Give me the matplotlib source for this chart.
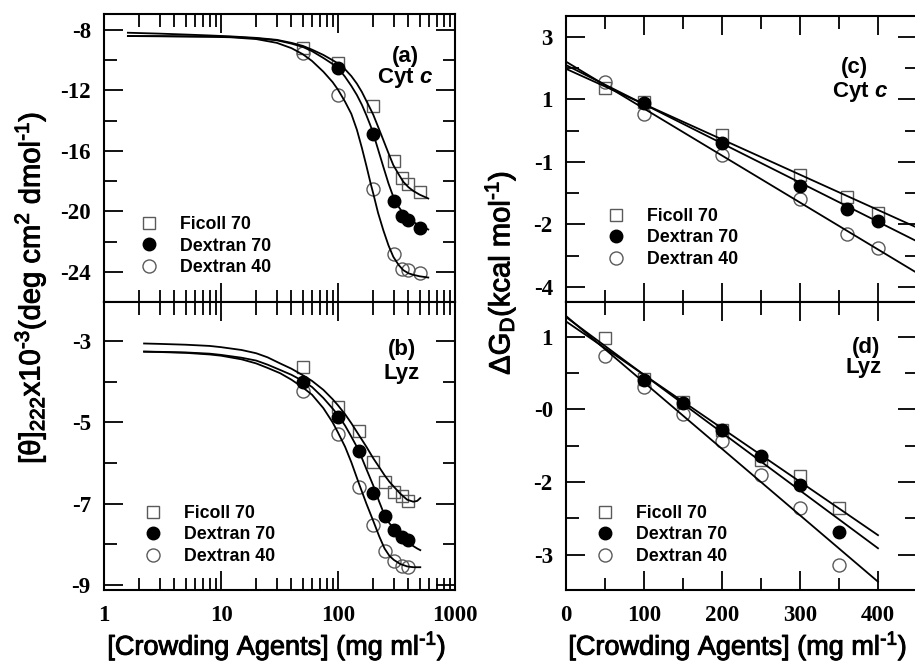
import matplotlib
matplotlib.use("Agg")
import matplotlib.pyplot as plt
import matplotlib.patheffects as pe
from matplotlib.ticker import LogLocator, NullFormatter, FixedLocator

plt.rcParams["font.family"] = ["Liberation Sans", "DejaVu Sans"]
plt.rcParams["mathtext.fontset"] = "custom"
plt.rcParams["mathtext.rm"] = "Liberation Sans"
plt.rcParams["mathtext.it"] = "Liberation Sans:italic"
plt.rcParams["mathtext.bf"] = "Liberation Sans:bold"
plt.rcParams["mathtext.bfit"] = "Liberation Sans:italic:bold"
plt.rcParams["axes.unicode_minus"] = False

# ---------------- (a) Cyt c, far-UV CD vs crowder ----------------
a_fic_x = [50, 100, 200, 300, 350, 400, 500]
a_fic_y = [-9.2, -10.2, -13.0, -16.7, -17.8, -18.2, -18.7]
a_d70_x = [100, 200, 300, 350, 400, 500]
a_d70_y = [-10.5, -14.9, -19.3, -20.3, -20.6, -21.1]
a_d40_x = [50, 100, 200, 300, 350, 400, 500]
a_d40_y = [-9.5, -12.3, -18.5, -22.8, -23.8, -23.9, -24.1]

a_fit_x = [1.6, 3, 5, 8, 12, 20, 30, 40, 50, 60, 75, 90, 100, 115, 130, 145, 160, 175,
           190, 200, 220, 244, 270, 297, 330, 361, 400, 440, 500, 591]
a_fit_fic = [-8.18, -8.24, -8.30, -8.36, -8.42, -8.52, -8.65, -8.85, -9.05, -9.30, -9.65,
             -10.00, -10.21, -10.60, -11.05, -11.55, -12.10, -12.70, -13.25, -13.60, -14.40,
             -15.28, -16.15, -16.94, -17.55, -18.04, -18.40, -18.65, -18.90, -19.15]
a_fit_d70 = [-8.40, -8.41, -8.42, -8.43, -8.45, -8.55, -8.68, -8.90, -9.12, -9.40, -9.85,
             -10.25, -10.50, -11.10, -11.70, -12.30, -12.95, -13.65, -14.35, -14.84, -15.90,
             -17.05, -18.15, -19.04, -19.70, -20.14, -20.50, -20.70, -20.95, -21.20]
a_fit_d40 = [-8.40, -8.41, -8.43, -8.45, -8.48, -8.60, -8.85, -9.20, -9.60, -10.05, -10.76,
             -11.45, -11.95, -12.75, -13.55, -14.60, -15.80, -17.00, -18.15, -18.81, -20.10,
             -21.25, -22.25, -23.01, -23.55, -23.89, -24.10, -24.20, -24.30, -24.38]

# ---------------- (b) Lyz, far-UV CD vs crowder ----------------
b_x = [50, 100, 150, 200, 250, 300, 350, 400]
b_fic_y = [-3.65, -4.61, -5.20, -5.97, -6.47, -6.70, -6.82, -6.92]
b_d70_y = [-4.00, -4.86, -5.70, -6.73, -7.29, -7.65, -7.81, -7.88]
b_d40_y = [-4.22, -5.28, -6.58, -7.52, -8.16, -8.40, -8.52, -8.56]

b_fit_x = [2.2, 3, 5, 8, 10, 15, 20, 25, 32, 40, 50, 60, 75, 90, 100, 115, 130, 150, 175,
           200, 225, 250, 275, 300, 340, 390, 440, 475, 505]
b_fit_fic = [-3.06, -3.07, -3.09, -3.12, -3.15, -3.22, -3.30, -3.40, -3.55, -3.68, -3.84,
             -3.98, -4.20, -4.43, -4.58, -4.80, -5.02, -5.30, -5.60, -5.88, -6.10, -6.30,
             -6.46, -6.58, -6.75, -6.90, -6.95, -6.93, -6.86]
b_fit_d70 = [-3.26, -3.265, -3.28, -3.31, -3.34, -3.41, -3.48, -3.58, -3.71, -3.83, -3.98,
             -4.13, -4.40, -4.66, -4.82, -5.08, -5.35, -5.68, -6.15, -6.55, -6.95, -7.28,
             -7.48, -7.60, -7.78, -7.93, -8.04, -8.10, -8.14]
b_fit_d40 = [-3.26, -3.27, -3.29, -3.33, -3.36, -3.45, -3.55, -3.66, -3.79, -3.95, -4.14,
             -4.32, -4.65, -5.00, -5.25, -5.60, -5.98, -6.48, -7.00, -7.42, -7.80, -8.10,
             -8.28, -8.38, -8.48, -8.54, -8.56, -8.56, -8.56]

# ---------------- (c) Cyt c, stability vs crowder ----------------
c_fic_x = [50, 100, 200, 300, 360, 400]
c_fic_y = [1.36, 0.92, -0.14, -1.42, -2.12, -2.64]
c_d70_x = [100, 200, 300, 360, 400]
c_d70_y = [0.90, -0.38, -1.77, -2.51, -2.89]
c_d40_x = [50, 100, 200, 300, 360, 400]
c_d40_y = [1.57, 0.53, -0.78, -2.19, -3.31, -3.74]
c_fit_x = [0, 450]
c_fit_fic = [1.98, -3.10]
c_fit_d70 = [2.10, -3.54]
c_fit_d40 = [2.21, -4.55]
c_yticks = [3, 1, -1, -3, -5]
c_yticklabels = ["3", "1", "-1", "-2", "-4"]

# ---------------- (d) Lyz, stability vs crowder ----------------
d_fic_x = [50, 100, 150, 200, 250, 300, 350]
d_fic_y = [0.98, 0.42, 0.10, -0.29, -0.70, -0.92, -1.35]
d_d70_x = [100, 150, 200, 250, 300, 350]
d_d70_y = [0.40, 0.09, -0.29, -0.64, -1.04, -1.69]
d_d40_x = [50, 100, 150, 200, 250, 300, 350]
d_d40_y = [0.73, 0.31, -0.07, -0.43, -0.90, -1.36, -2.14]
d_fit_x = [0, 400]
d_fit_fic = [1.21, -1.73]
d_fit_d70 = [1.27, -1.91]
d_fit_d40 = [1.285, -2.37]
d_yticks = [1, 0, -1, -2]
d_yticklabels = ["1", "-0", "-2", "-3"]

log_ticks = [1, 10, 100, 1000]
log_ticklabels = ["1", "10", "100", "1000"]
lin_ticks = [0, 100, 200, 300, 400]
lin_ticklabels = ["0", "100", "200", "300", "400"]

series_names = ["Ficoll 70", "Dextran 70", "Dextran 40"]

W, H = 915, 665
fig = plt.figure(figsize=(W / 100, H / 100), dpi=100)


def px_axes(left, top, right, bottom):
    return fig.add_axes([left / W, 1 - bottom / H, (right - left) / W, (bottom - top) / H])


ax_a = px_axes(104, 14, 455, 302)
ax_b = px_axes(104, 302, 455, 590)
ax_c = px_axes(566, 16, 917, 302)
ax_d = px_axes(566, 302, 917, 590)

tick_font = dict(fontfamily="Liberation Serif", fontweight="bold", fontsize=16.5)
gray = "#5a5a5a"
heavy = [pe.withStroke(linewidth=0.7, foreground="black")]


def draw_series(ax, fx, fy, dx70, dy70, dx40, dy40, fits_x, fits):
    h1, = ax.plot(fx, fy, ls="none", marker="s", ms=8.4, mfc="none", mec=gray, mew=1.0, zorder=3)
    h3, = ax.plot(dx40, dy40, ls="none", marker="o", ms=9.4, mfc="none", mec=gray, mew=1.0, zorder=3)
    h2, = ax.plot(dx70, dy70, ls="none", marker="o", ms=9.0, mfc="black", mec="black", mew=1.0, zorder=4)
    for fyv in fits:
        ax.plot(fits_x, fyv, color="black", lw=1.3, zorder=5, solid_joinstyle="round")
    return [h1, h2, h3]


def style(ax):
    for s in ax.spines.values():
        s.set_linewidth(1.5)
    ax.tick_params(which="both", direction="in", top=True, right=True, width=1.3)
    ax.tick_params(which="major", length=14, pad=9.5)
    ax.tick_params(which="minor", length=9)
    ax.tick_params(axis="x", which="major", pad=10.5)


def add_legend(ax, handles, x, y):
    ax.legend(handles, series_names, loc="center left", bbox_to_anchor=(x, y),
              frameon=False, handlelength=1.0, handletextpad=1.24, labelspacing=0.26,
              borderpad=0, borderaxespad=0, numpoints=1,
              prop=dict(family="Liberation Sans", weight="bold", size=12.8))


def tag(ax, x1, y1, s1, x2, y2, s2):
    ax.text(x1, y1, s1, transform=ax.transAxes, ha="center", va="baseline",
            fontsize=16, fontweight="bold")
    ax.text(x2, y2, s2, transform=ax.transAxes, ha="center", va="baseline",
            fontsize=16, fontweight="bold")


# panel (a)
h = draw_series(ax_a, a_fic_x, a_fic_y, a_d70_x, a_d70_y, a_d40_x, a_d40_y,
                a_fit_x, [a_fit_fic, a_fit_d70, a_fit_d40])
ax_a.set_xscale("log")
ax_a.set_xlim(1, 1000)
ax_a.set_ylim(-26.0, -6.94)
ax_a.set_yticks([-8, -12, -16, -20, -24], ["-8", "-12", "-16", "-20", "-24"], **tick_font)
ax_a.yaxis.set_minor_locator(FixedLocator([-10, -14, -18, -22, -26]))
add_legend(ax_a, h, 0.1028, 0.1944)
tag(ax_a, 0.8575, 0.8344, "(a)", 0.8575, 0.7594, r"Cyt $\mathbfit{c}$")

# panel (b)
h = draw_series(ax_b, b_x, b_fic_y, b_x, b_d70_y, b_x, b_d40_y,
                b_fit_x, [b_fit_fic, b_fit_d70, b_fit_d40])
ax_b.set_xscale("log")
ax_b.set_xlim(1, 1000)
ax_b.set_ylim(-9.12, -2.04)
ax_b.set_yticks([-3, -5, -7, -9], ["-3", "-5", "-7", "-9"], **tick_font)
ax_b.yaxis.set_minor_locator(FixedLocator([-4, -6, -8]))
add_legend(ax_b, h, 0.1142, 0.191)
tag(ax_b, 0.849, 0.816, "(b)", 0.849, 0.7316, "Lyz")

for ax in (ax_a, ax_b):
    ax.set_xticks(log_ticks, log_ticklabels, **tick_font)
    ax.xaxis.set_minor_locator(LogLocator(base=10, subs=range(2, 10)))
    ax.xaxis.set_minor_formatter(NullFormatter())
ax_a.tick_params(axis="x", labelbottom=False)

# panel (c)
h = draw_series(ax_c, c_fic_x, c_fic_y, c_d70_x, c_d70_y, c_d40_x, c_d40_y,
                c_fit_x, [c_fit_fic, c_fit_d70, c_fit_d40])
ax_c.set_ylim(-5.48, 3.67)
ax_c.set_yticks(c_yticks, c_yticklabels, **tick_font)
ax_c.yaxis.set_minor_locator(FixedLocator([2, 0, -2, -4]))
add_legend(ax_c, h, 0.1171, 0.2238)
tag(ax_c, 0.823, 0.8017, "(c)", 0.8376, 0.7178, r"Cyt $\mathbfit{c}$")

# panel (d)
h = draw_series(ax_d, d_fic_x, d_fic_y, d_d70_x, d_d70_y, d_d40_x, d_d40_y,
                d_fit_x, [d_fit_fic, d_fit_d70, d_fit_d40])
ax_d.set_ylim(-2.484, 1.477)
ax_d.set_yticks(d_yticks, d_yticklabels, **tick_font)
ax_d.yaxis.set_minor_locator(FixedLocator([0.5, -0.5, -1.5]))
add_legend(ax_d, h, 0.0858, 0.191)
tag(ax_d, 0.855, 0.824, "(d)", 0.849, 0.7524, "Lyz")

for ax in (ax_c, ax_d):
    ax.set_xlim(0, 450)
    ax.set_xticks(lin_ticks, lin_ticklabels, **tick_font)
    ax.xaxis.set_minor_locator(FixedLocator([50, 150, 250, 350, 450]))
ax_c.tick_params(axis="x", labelbottom=False)

for ax in (ax_a, ax_b, ax_c, ax_d):
    style(ax)

# axis titles
xlab = r"[Crowding Agents] (mg ml$^{‐1}$)"
fig.text(277 / W, 1 - 646 / H, xlab, ha="center", va="center", fontsize=19.5,
         path_effects=heavy)
fig.text(738 / W, 1 - 646 / H, xlab, ha="center", va="center", fontsize=19.5,
         path_effects=heavy)
fig.text(30 / W, 1 - 288 / H, r"[θ]$_{222}$x10$^{‐3}$(deg cm$^{2}$ dmol$^{‐1}$)",
         ha="center", va="center", rotation=90, fontsize=21, path_effects=heavy)
fig.text(500 / W, 1 - 273 / H, r"ΔG$_{\mathrm{D}}$(kcal mol$^{‐1}$)",
         ha="center", va="center", rotation=90, fontsize=21, path_effects=heavy)

fig.savefig("out.png", dpi=100)
